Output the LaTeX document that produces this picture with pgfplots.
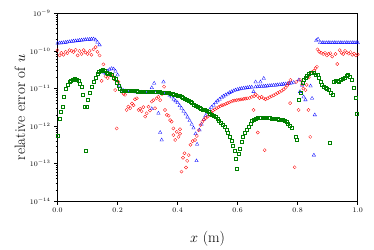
\documentclass[border=0pt]{standalone}
\usepackage{pgfplots}
\pgfplotsset{compat=1.18}
\usepackage{pgfplotstable}

\pgfplotstableread{
x y
0.000 1.60e-10
0.007 1.62e-10
0.013 1.63e-10
0.020 1.66e-10
0.027 1.69e-10
0.033 1.72e-10
0.040 1.75e-10
0.047 1.78e-10
0.053 1.82e-10
0.060 1.85e-10
0.067 1.88e-10
0.073 1.91e-10
0.080 1.94e-10
0.087 1.96e-10
0.093 1.99e-10
0.100 2.01e-10
0.107 2.03e-10
0.113 2.06e-10
0.120 2.08e-10
0.127 1.95e-10
0.133 1.70e-10
0.140 1.45e-10
0.147 3.0e-11
0.153 2.7e-11
0.160 2.5e-11
0.167 2.9e-11
0.173 3.2e-11
0.180 3.4e-11
0.187 3.3e-11
0.193 2.9e-11
0.200 2.3e-11
0.207 1.2e-11
0.213 9.5e-12
0.220 8.8e-12
0.227 8.6e-12
0.233 8.4e-12
0.240 8.3e-12
0.247 8.2e-12
0.253 8.2e-12
0.260 8.1e-12
0.267 8.1e-12
0.273 8.0e-12
0.280 8.0e-12
0.287 7.9e-12
0.293 7.9e-12
0.300 7.9e-12
0.307 7.8e-12
0.314 1.05e-11
0.314 2.9e-12
0.320 7.8e-12
0.322 1.38e-11
0.327 7.7e-12
0.333 7.7e-12
0.336 2.2e-12
0.340 7.6e-12
0.342 6.8e-13
0.347 4.3e-13
0.347 7.6e-12
0.353 1.5e-11
0.353 7.5e-12
0.360 7.5e-12
0.367 7.3e-12
0.373 6.6e-12
0.380 6.0e-12
0.387 5.2e-12
0.393 4.7e-12
0.400 4.2e-12
0.407 3.5e-12
0.413 3.0e-12
0.420 2.5e-12
0.427 2.1e-12
0.433 1.74e-12
0.440 1.41e-12
0.447 1.12e-12
0.453 8.9e-13
0.460 6.3e-13
0.465 3.3e-13
0.463 1.2e-13
0.473 7.9e-13
0.480 1.12e-12
0.487 1.5e-12
0.493 1.9e-12
0.500 2.3e-12
0.507 2.75e-12
0.513 3.2e-12
0.520 3.6e-12
0.527 4.2e-12
0.533 4.7e-12
0.540 5.2e-12
0.547 5.8e-12
0.553 6.3e-12
0.560 6.8e-12
0.567 7.2e-12
0.573 7.8e-12
0.580 8.3e-12
0.587 8.7e-12
0.593 9.1e-12
0.600 9.5e-12
0.607 9.8e-12
0.613 1.0e-11
0.620 1.02e-11
0.627 1.04e-11
0.633 1.06e-11
0.640 1.08e-11
0.647 1.09e-11
0.653 8.3e-12
0.660 1.5e-11
0.660 1.1e-11
0.667 1.12e-11
0.673 1.13e-11
0.676 1.5e-11
0.680 1.14e-11
0.687 1.86e-11
0.687 1.15e-11
0.693 1.16e-11
0.700 1.18e-11
0.707 1.19e-11
0.713 1.2e-11
0.720 1.22e-11
0.727 1.23e-11
0.733 1.25e-11
0.740 1.27e-11
0.747 1.29e-11
0.753 1.31e-11
0.760 1.33e-11
0.767 1.35e-11
0.773 1.37e-11
0.780 1.4e-11
0.787 1.45e-11
0.804 1.7e-11
0.808 8.3e-12
0.815 1.23e-11
0.820 6.0e-12
0.826 5.0e-12
0.843 1.17e-11
0.848 5.5e-12
0.854 1.7e-13
0.857 2.0e-12
0.862 1.9e-10
0.868 2.05e-10
0.875 1.68e-10
0.882 1.66e-10
0.888 1.66e-10
0.895 1.66e-10
0.902 1.66e-10
0.908 1.66e-10
0.915 1.66e-10
0.922 1.66e-10
0.928 1.66e-10
0.935 1.66e-10
0.942 1.66e-10
0.948 1.66e-10
0.955 1.66e-10
0.962 1.66e-10
0.968 1.66e-10
0.975 1.66e-10
0.982 1.66e-10
0.988 1.66e-10
0.995 1.66e-10
1.000 1.66e-10
}\blueT

\pgfplotstableread{
x y
0.000 1.05e-10
0.007 7.6e-11
0.013 8.9e-11
0.020 7.9e-11
0.027 9.5e-11
0.033 8.7e-11
0.040 1.05e-10
0.047 1.0e-10
0.053 9.3e-11
0.060 1.07e-10
0.067 7.6e-11
0.073 1.0e-10
0.080 8.3e-11
0.087 1.05e-10
0.093 9.1e-11
0.100 8.3e-11
0.107 1.0e-10
0.113 7.9e-11
0.120 1.1e-10
0.127 1.26e-10
0.133 9.5e-11
0.140 7.6e-11
0.147 1.6e-11
0.153 4.4e-11
0.160 2.1e-11
0.167 1.9e-11
0.173 2.3e-11
0.180 2.3e-11
0.187 1.8e-11
0.192 9.1e-12
0.197 8.7e-13
0.203 1.5e-11
0.214 8.3e-12
0.220 7.2e-12
0.225 6.8e-12
0.230 2.7e-12
0.236 3.3e-12
0.242 3.0e-12
0.248 4.0e-12
0.253 3.6e-12
0.258 5.2e-12
0.264 5.5e-12
0.270 2.7e-12
0.275 2.9e-12
0.280 2.5e-12
0.286 3.2e-12
0.292 1.8e-12
0.297 2.2e-12
0.303 3.3e-12
0.308 2.6e-12
0.314 4.5e-12
0.319 4.9e-12
0.325 3.0e-12
0.330 5.5e-12
0.336 6.0e-12
0.342 4.9e-12
0.348 7.0e-12
0.355 1.12e-11
0.358 2.7e-12
0.364 2.0e-12
0.370 1.9e-12
0.375 1.45e-12
0.380 1.32e-12
0.386 8.7e-13
0.386 5.8e-13
0.392 4.3e-13
0.397 7.1e-13
0.403 5.2e-13
0.408 8.3e-13
0.408 6.3e-13
0.413 6.2e-14
0.418 1.45e-13
0.423 1.9e-13
0.428 8.0e-14
0.432 1.2e-13
0.437 1.7e-13
0.443 3.2e-13
0.450 4.0e-13
0.458 4.3e-13
0.464 5.5e-13
0.470 7.8e-13
0.476 1.07e-12
0.482 1.3e-12
0.488 1.5e-12
0.494 1.65e-12
0.500 1.8e-12
0.506 2.0e-12
0.512 2.3e-12
0.518 2.6e-12
0.524 2.8e-12
0.530 3.0e-12
0.536 3.2e-12
0.542 3.4e-12
0.548 3.6e-12
0.554 3.7e-12
0.560 3.9e-12
0.566 4.1e-12
0.572 4.3e-12
0.578 4.5e-12
0.584 4.7e-12
0.590 4.8e-12
0.596 4.9e-12
0.602 5.0e-12
0.608 5.1e-12
0.614 5.2e-12
0.620 5.3e-12
0.626 5.4e-12
0.632 5.5e-12
0.640 5.6e-12
0.647 6.0e-12
0.653 2.7e-12
0.655 6.3e-12
0.660 7.0e-12
0.667 6.8e-13
0.667 6.3e-12
0.673 5.6e-12
0.680 6.0e-12
0.687 5.5e-12
0.690 2.3e-13
0.693 5.2e-12
0.700 5.5e-12
0.707 5.9e-12
0.713 6.2e-12
0.720 6.6e-12
0.727 7.1e-12
0.733 7.6e-12
0.740 8.1e-12
0.747 8.7e-12
0.753 9.5e-12
0.760 1.05e-11
0.765 1.2e-11
0.770 1.4e-11
0.775 4.1e-12
0.776 1.7e-11
0.790 8.1e-14
0.795 1.5e-11
0.803 2.7e-12
0.808 1.7e-11
0.815 1.3e-11
0.819 1.0e-11
0.826 9.1e-12
0.830 1.25e-11
0.836 2.7e-12
0.837 2.0e-11
0.842 5.2e-13
0.849 2.8e-11
0.855 3.0e-11
0.860 3.5e-11
0.864 3.8e-11
0.866 1.1e-10
0.872 9.5e-11
0.878 8.9e-11
0.885 8.3e-11
0.891 8.9e-11
0.897 7.6e-11
0.903 8.3e-11
0.909 8.7e-11
0.915 7.1e-11
0.926 8.3e-11
0.932 4.5e-11
0.940 1.05e-10
0.946 8.9e-11
0.952 8.3e-11
0.958 1.0e-10
0.964 9.1e-11
0.970 8.5e-11
0.976 9.3e-11
0.982 7.9e-11
0.988 8.5e-11
0.994 7.6e-11
1.000 8.1e-11
}\redT

\pgfplotstableread{
x y
0.002 5.5e-13
0.006 1.6e-12
0.010 2.5e-12
0.016 3.3e-12
0.021 6.0e-12
0.027 1.0e-11
0.033 1.3e-11
0.039 1.5e-11
0.045 1.66e-11
0.051 1.74e-11
0.057 1.78e-11
0.063 1.74e-11
0.069 1.6e-11
0.075 1.38e-11
0.080 1.1e-11
0.085 7.1e-12
0.090 3.3e-12
0.094 2.2e-13
0.097 3.3e-12
0.102 5.2e-12
0.108 7.9e-12
0.114 1.1e-11
0.120 1.55e-11
0.126 2.0e-11
0.132 2.5e-11
0.138 2.8e-11
0.144 3.0e-11
0.150 3.1e-11
0.156 3.0e-11
0.162 2.6e-11
0.168 2.5e-11
0.174 2.5e-11
0.180 2.3e-11
0.186 2.0e-11
0.192 1.8e-11
0.198 1.4e-11
0.203 1.2e-11
0.208 1.0e-11
0.214 9.0e-12
0.220 8.9e-12
0.226 8.9e-12
0.232 8.8e-12
0.238 8.8e-12
0.244 8.7e-12
0.250 8.7e-12
0.256 8.6e-12
0.262 8.6e-12
0.268 8.5e-12
0.274 8.5e-12
0.280 8.4e-12
0.286 8.4e-12
0.292 8.3e-12
0.298 8.3e-12
0.304 8.3e-12
0.310 8.2e-12
0.316 8.2e-12
0.322 8.2e-12
0.328 8.1e-12
0.334 8.1e-12
0.340 8.1e-12
0.346 8.0e-12
0.352 8.0e-12
0.358 7.9e-12
0.364 7.8e-12
0.370 7.6e-12
0.376 7.4e-12
0.382 7.3e-12
0.388 7.1e-12
0.394 6.9e-12
0.400 6.6e-12
0.406 6.3e-12
0.412 6.0e-12
0.418 5.7e-12
0.424 5.4e-12
0.430 5.1e-12
0.436 4.7e-12
0.442 4.4e-12
0.448 4.1e-12
0.454 3.8e-12
0.460 3.5e-12
0.466 3.3e-12
0.472 3.1e-12
0.478 2.9e-12
0.484 2.8e-12
0.490 2.7e-12
0.496 2.6e-12
0.502 2.4e-12
0.508 2.2e-12
0.514 2.0e-12
0.520 1.9e-12
0.526 1.75e-12
0.532 1.6e-12
0.538 1.4e-12
0.544 1.25e-12
0.550 1.1e-12
0.556 9.8e-13
0.562 8.3e-13
0.568 6.8e-13
0.574 5.2e-13
0.580 4.0e-13
0.585 3.0e-13
0.590 2.2e-13
0.594 1.4e-13
0.596 7.6e-14
0.603 1.9e-13
0.608 2.6e-13
0.613 3.9e-13
0.618 5.4e-13
0.624 6.8e-13
0.630 8.3e-13
0.636 1.0e-12
0.642 1.2e-12
0.648 1.4e-12
0.654 1.5e-12
0.660 1.6e-12
0.666 1.65e-12
0.672 1.7e-12
0.678 1.7e-12
0.684 1.7e-12
0.690 1.7e-12
0.696 1.68e-12
0.702 1.66e-12
0.708 1.65e-12
0.714 1.63e-12
0.720 1.6e-12
0.726 1.58e-12
0.732 1.55e-12
0.738 1.52e-12
0.744 1.48e-12
0.750 1.45e-12
0.756 1.4e-12
0.762 1.3e-12
0.768 1.2e-12
0.774 1.05e-12
0.780 9.3e-13
0.793 5.2e-13
0.798 4.3e-13
0.804 5.1e-12
0.810 7.6e-12
0.815 1.4e-11
0.820 1.7e-11
0.825 1.9e-11
0.830 2.2e-11
0.836 2.5e-11
0.842 2.6e-11
0.848 2.7e-11
0.853 2.6e-11
0.859 2.4e-11
0.865 2.3e-11
0.870 1.9e-11
0.875 1.5e-11
0.880 1.25e-11
0.886 1.1e-11
0.892 1.05e-11
0.898 9.8e-12
0.904 9.1e-12
0.907 3.7e-13
0.910 7.9e-12
0.915 6.8e-12
0.920 1.5e-11
0.926 1.65e-11
0.932 1.66e-11
0.938 1.55e-11
0.944 1.7e-11
0.950 1.85e-11
0.956 1.9e-11
0.962 2.2e-11
0.968 2.3e-11
0.974 2.1e-11
0.980 1.7e-11
0.986 1.05e-11
0.992 5.9e-12
0.998 2.2e-12
}\greenT

\definecolor{mblue}{rgb}{0,0,1}
\definecolor{mred}{rgb}{1,0,0}
\definecolor{mgreen}{rgb}{0,0.5,0}

\begin{document}
\begin{tikzpicture}
\begin{axis}[
  scale only axis,
  width=300pt, height=188pt,
  ymode=log,
  xmin=0, xmax=1,
  ymin=1e-14, ymax=1e-9,
  xtick={0,0.2,0.4,0.6,0.8,1.0},
  xticklabel style={/pgf/number format/fixed,/pgf/number format/fixed zerofill,/pgf/number format/precision=1},
  ytick={1e-14,1e-13,1e-12,1e-11,1e-10,1e-9},
  tick label style={font=\fontsize{7}{8}\selectfont},
  xtick pos=bottom, ytick pos=left,
  tick align=outside,
  major tick length=3.5pt, minor tick length=2pt,
  axis line style={line width=0.8pt},
  every tick/.style={line width=0.6pt, black},
  xlabel={$x$ (m)},
  ylabel={relative error of $u$},
  label style={font=\fontsize{15}{18}\selectfont},
  xlabel style={at={(axis description cs:0.5,-0.197)}, anchor=center},
  ylabel style={at={(axis description cs:-0.125,0.5)}, anchor=center},
  clip=false,
]
\coordinate (sw) at (rel axis cs:0,0);
\coordinate (ne) at (rel axis cs:1,1);
\addplot[only marks, mark=triangle, mark size=2.0pt, mblue, line width=0.3pt] table[x=x,y=y] {\blueT};
\addplot[only marks, mark=o, mark size=1.6pt, mred, line width=0.3pt] table[x=x,y=y] {\redT};
\addplot[only marks, mark=square, mark size=1.5pt, mgreen, line width=0.3pt] table[x=x,y=y] {\greenT};
\end{axis}
\pgfresetboundingbox
\path[use as bounding box] ([xshift=-57.5pt,yshift=-48pt]sw) rectangle ([xshift=16.3pt,yshift=13.3pt]ne);
\end{tikzpicture}
\end{document}
